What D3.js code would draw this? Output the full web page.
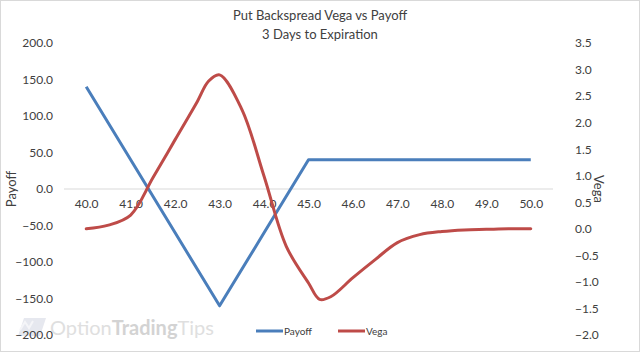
<!DOCTYPE html>
<html>
<head>
<meta charset="utf-8">
<script src="https://cdn.jsdelivr.net/npm/d3@7"></script>
<style>
  body { margin: 0; background: #fff; }
  svg { display: block; font-family: Lato, "Open Sans", sans-serif; }
</style>
</head>
<body>
<div id="container"></div>
<script>
/* DATA */
const strikes = [40, 41, 42, 43, 44, 45, 46, 47, 48, 49, 50]
const payoff = [140, 40, -60, -160, -60, 40, 40, 40, 40, 40, 40]

const vegaX = [40, 40.5, 41, 41.5, 42, 42.5, 42.75, 43, 43.5, 44, 44.5, 45, 45.25, 45.5, 46, 46.5, 47, 47.5, 48, 48.5, 49, 49.5, 50]
const vega = [0.0, 0.07, 0.26, 0.96, 1.68, 2.4, 2.78, 2.9, 2.25, 0.99, -0.33, -1.02, -1.33, -1.28, -0.92, -0.58, -0.26, -0.11, -0.05, -0.02, -0.01, 0.0, 0.0]

const payoffTicks = [200, 150, 100, 50, 0, -50, -100, -150, -200]
const vegaTicks = [3.5, 3.0, 2.5, 2.0, 1.5, 1.0, 0.5, 0.0, -0.5, -1.0, -1.5, -2.0]

/* CONSTANTS */
const width = 640,
  height = 352,
  margin = { top: 43, bottom: 17, left: 64, right: 87 }

const svg = d3.select("#container")
  .append("svg")
  .attr("width", width)
  .attr("height", height)

svg.append("rect")
  .attr("x", 0.5).attr("y", 0.5)
  .attr("width", width - 1).attr("height", height - 1)
  .attr("fill", "#fff")
  .attr("stroke", "#d9d9d9")

// SCALES
const xScale = d3.scaleLinear()
  .domain([39.5, 50.5])
  .range([margin.left, width - margin.right])

const yScale = d3.scaleLinear()
  .domain([-200, 200])
  .range([height - margin.bottom, margin.top])

const y2Scale = d3.scaleLinear()
  .domain([-2, 3.5])
  .range([height - margin.bottom, margin.top])

// WATERMARK
const wm = svg.append("g").attr("opacity", 0.9)
wm.append("path")
  .attr("d", "M18,336 L24,318 L46,318 L40,336 Z")
  .attr("fill", "#e4e6ee")
wm.append("path")
  .attr("d", "M20,330 L25,322 L29,328 L33,321")
  .attr("fill", "none")
  .attr("stroke", "#f4f5f8")
  .attr("stroke-width", 2)
const wmText = wm.append("text")
  .attr("x", 50)
  .attr("y", 335)
  .attr("font-size", 20)
  .attr("fill", "#dcdcdc")
wmText.append("tspan").text("Option")
wmText.append("tspan").attr("fill", "#cfcfcf").attr("font-weight", "bold").text("Trading")
wmText.append("tspan").text("Tips")

// ZERO LINE
svg.append("line")
  .attr("x1", xScale.range()[0])
  .attr("x2", xScale.range()[1])
  .attr("y1", yScale(0))
  .attr("y2", yScale(0))
  .attr("stroke", "#d9d9d9")
  .attr("stroke-width", 1)

// AXES
const leftAxis = svg.append("g")
  .attr("transform", `translate(${margin.left - 11}, 0)`)
  .call(d3.axisLeft(yScale).tickValues(payoffTicks).tickSize(0).tickPadding(0).tickFormat(d3.format(".1f")))
leftAxis.select(".domain").remove()

const rightAxis = svg.append("g")
  .attr("transform", `translate(${width - margin.right + 22}, 0)`)
  .call(d3.axisRight(y2Scale).tickValues(vegaTicks).tickSize(0).tickPadding(0).tickFormat(d3.format(".1f")))
rightAxis.select(".domain").remove()

const bottomAxis = svg.append("g")
  .attr("transform", `translate(0, ${yScale(0) + 10})`)
  .call(d3.axisBottom(xScale).tickValues(strikes).tickSize(0).tickPadding(0).tickFormat(d3.format(".1f")))
bottomAxis.select(".domain").remove()

svg.selectAll(".tick text")
  .attr("font-size", 12)
  .attr("font-family", "Lato, sans-serif")
  .attr("fill", "#404040")

// AXIS TITLES
svg.append("text")
  .attr("transform", `translate(16, ${yScale(0)}) rotate(-90)`)
  .attr("text-anchor", "middle")
  .attr("font-size", 13)
  .attr("fill", "#404040")
  .text("Payoff")

svg.append("text")
  .attr("transform", `translate(594, ${yScale(0)}) rotate(90)`)
  .attr("text-anchor", "middle")
  .attr("font-size", 13)
  .attr("fill", "#404040")
  .text("Vega")

// TITLE
svg.append("text")
  .attr("x", width / 2)
  .attr("y", 20)
  .attr("text-anchor", "middle")
  .attr("font-size", 13)
  .attr("fill", "#404040")
  .text("Put Backspread Vega vs Payoff")

svg.append("text")
  .attr("x", width / 2)
  .attr("y", 39)
  .attr("text-anchor", "middle")
  .attr("font-size", 13)
  .attr("fill", "#404040")
  .text("3 Days to Expiration")

// LINES
const payoffLine = d3.line()
  .x((d, i) => xScale(strikes[i]))
  .y(d => yScale(d))

svg.append("path")
  .datum(payoff)
  .attr("fill", "none")
  .attr("stroke", "#4a7ebb")
  .attr("stroke-width", 3)
  .attr("stroke-linejoin", "round")
  .attr("d", payoffLine)

const vegaLine = d3.line()
  .x((d, i) => xScale(vegaX[i]))
  .y(d => y2Scale(d))
  .curve(d3.curveCatmullRom.alpha(0.5))

svg.append("path")
  .datum(vega)
  .attr("fill", "none")
  .attr("stroke", "#be4b48")
  .attr("stroke-width", 3)
  .attr("stroke-linecap", "round")
  .attr("d", vegaLine)

// LEGEND
const legend = [
  { name: "Payoff", color: "#4a7ebb", x: 256 },
  { name: "Vega", color: "#be4b48", x: 338 }
]
const lg = svg.selectAll(".legend")
  .data(legend)
  .join("g")
  .attr("class", "legend")
  .attr("transform", d => `translate(${d.x}, 331)`)
lg.append("line")
  .attr("x1", 0).attr("x2", 27)
  .attr("stroke", d => d.color)
  .attr("stroke-width", 3)
lg.append("text")
  .attr("x", 28)
  .attr("y", 3.5)
  .attr("font-size", 10)
  .attr("fill", "#404040")
  .text(d => d.name)
</script>
</body>
</html>
